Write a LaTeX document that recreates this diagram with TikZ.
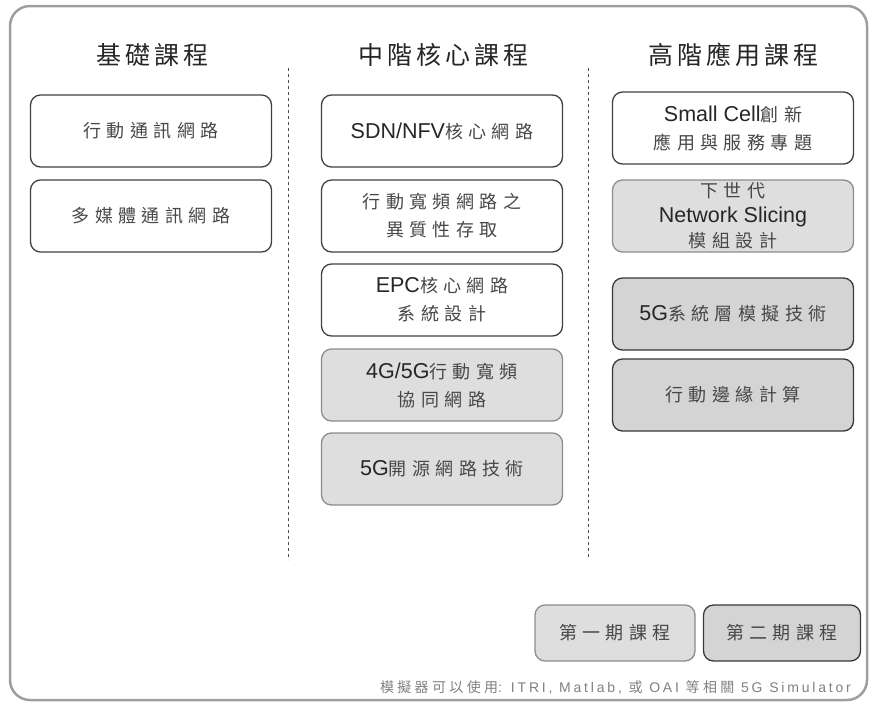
\documentclass[tikz,border=0pt]{standalone}
\usepackage{fontspec}
\setmainfont{Liberation Sans}
\newfontfamily\cjkbox[LetterSpace=30]{Noto Sans CJK TC}
\newfontfamily\cjkhead[LetterSpace=16]{Noto Sans CJK TC}
\newfontfamily\cjksmall[LetterSpace=24]{Noto Sans CJK TC}
\newfontfamily\latwide[LetterSpace=20]{Liberation Sans}
\newcommand\zh[1]{{\cjkbox\color{black!72}\fontsize{18}{28}\selectfont #1}}
\newcommand\zhc[1]{{\cjkbox\color{black!72}\fontsize{18}{25}\selectfont #1}}
\begin{document}
\begin{tikzpicture}[x=1pt,y=-1pt,
  course/.style={draw=black!75, line width=1.3pt, rounded corners=10pt,
    align=center, inner sep=0pt, minimum width=241pt, minimum height=72pt,
    text=black!85, font=\fontsize{21.5}{28}\selectfont},
  phaseone/.style={course, fill=black!13, draw=black!45},
  phasetwo/.style={course, fill=black!17, draw=black!78},
  head/.style={font=\cjkhead\fontsize{25}{30}\selectfont, text=black!85},
  divider/.style={draw=black!70, line width=1pt, dash pattern=on 3pt off 3pt}]
\useasboundingbox (0,0) rectangle (872,707);
\draw[draw=black!38, line width=2.5pt, rounded corners=20pt] (10,6) rectangle (867,700);

\node[head] (h1) at (152,55) {基礎課程};
\node[head] (h2) at (443,55) {中階核心課程};
\node[head] (h3) at (733,55) {高階應用課程};

\coordinate (d1t) at (288,68); \coordinate (d1b) at (288,560);
\coordinate (d2t) at (588,68); \coordinate (d2b) at (588,560);
\draw[divider] (d1t) -- (d1b);
\draw[divider] (d2t) -- (d2b);

\node[course] (a1) at (151,131) {\zh{行動通訊網路}};
\node[course] (a2) at (151,216) {\zh{多媒體通訊網路}};

\node[course] (b1) at (442,131) {SDN/NFV\zh{核心網路}};
\node[course] (b2) at (442,216) {\zh{行動寬頻網路之}\\\zh{異質性存取}};
\node[course] (b3) at (442,300) {EPC\zh{核心網路}\\\zh{系統設計}};
\node[phaseone] (b4) at (442,385) {4G/5G\zh{行動寬頻}\\\zh{協同網路}};
\node[phaseone] (b5) at (442,469) {5G\zh{開源網路技術}};

\node[course] (c1) at (733,128) {Small Cell\zh{創新}\\\zh{應用與服務專題}};
\node[phaseone, font=\fontsize{21.5}{25}\selectfont] (c2) at (733,216) {\zhc{下世代}\\Network Slicing\\\zhc{模組設計}};
\node[phasetwo] (c3) at (733,314) {5G\zh{系統層模擬技術}};
\node[phasetwo] (c4) at (733,395) {\zh{行動邊緣計算}};

\node[phaseone, minimum width=160pt, minimum height=56pt] (l1) at (615,633) {\zh{第一期課程}};
\node[phasetwo, minimum width=157pt, minimum height=56pt] (l2) at (782,633) {\zh{第二期課程}};

\node[anchor=east, text=black!50, font=\latwide\fontsize{14}{16}\selectfont, inner sep=0pt] (note) at (851,687)
  {{\cjksmall 模擬器可以使用}: ITRI, Matlab, {\cjksmall 或} OAI {\cjksmall 等相關} 5G Simulator};
\end{tikzpicture}
\end{document}
